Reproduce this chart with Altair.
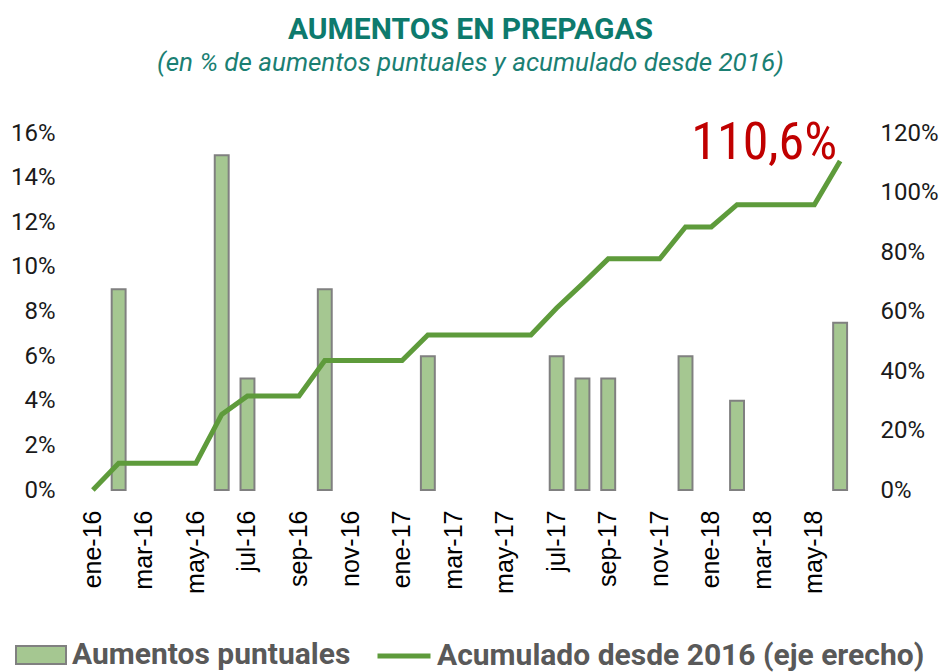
import altair as alt
import pandas as pd

meses = ["ene-16", "feb-16", "mar-16", "abr-16", "may-16", "jun-16", "jul-16", "ago-16",
         "sep-16", "oct-16", "nov-16", "dic-16", "ene-17", "feb-17", "mar-17", "abr-17",
         "may-17", "jun-17", "jul-17", "ago-17", "sep-17", "oct-17", "nov-17", "dic-17",
         "ene-18", "feb-18", "mar-18", "abr-18", "may-18", "jun-18"]
aumentos = [None, 9, None, None, None, 15, 5, None, None, 9, None, None,
            None, 6, None, None, None, None, 6, 5, 5, None, None, 6,
            None, 4, None, None, None, 7.5]
acumulado = [0, 9.0, 9.0, 9.0, 9.0, 25.4, 31.6, 31.6, 31.6, 43.5, 43.5, 43.5,
             43.5, 52.1, 52.1, 52.1, 52.1, 52.1, 61.2, 69.3, 77.7, 77.7, 77.7, 88.4,
             88.4, 95.9, 95.9, 95.9, 95.9, 110.6]
etiquetas_x = ["ene-16", "mar-16", "may-16", "jul-16", "sep-16", "nov-16", "ene-17",
               "mar-17", "may-17", "jul-17", "sep-17", "nov-17", "ene-18", "mar-18", "may-18"]
ticks_izq = [0, 2, 4, 6, 8, 10, 12, 14, 16]
ticks_der = [0, 20, 40, 60, 80, 100, 120]
anot_mes = ["jun-18"]
anot_valor = [110.6]
anot_texto = ["110,6%"]

serie_b = "Aumentos puntuales"
serie_l = "Acumulado desde 2016 (eje erecho)"

df = pd.DataFrame({"mes": meses, "aumento": aumentos, "acumulado": acumulado})
df["serie_b"] = serie_b
df["serie_l"] = serie_l
df_anot = pd.DataFrame({"mes": anot_mes, "acumulado": anot_valor, "texto": anot_texto})

x_enc = alt.X(
    "mes:N", sort=meses,
    scale=alt.Scale(paddingInner=0.46, paddingOuter=0.23),
    axis=alt.Axis(values=etiquetas_x, labelAngle=-90, labelFont="Liberation Sans",
                  labelFontSize=25, labelColor="#000000", ticks=False, domain=False,
                  labelPadding=20, title=None, grid=False),
)

label_font = "Roboto"
legend_common = dict(orient="none", title=None, labelFont=label_font, labelFontSize=30,
                     labelFontWeight="bold", labelColor="#595959", padding=0, labelLimit=0)

bars = alt.Chart(df).transform_filter("datum.aumento > 0").mark_bar(
    stroke="#808080", strokeWidth=2
).encode(
    x=x_enc,
    y=alt.Y("aumento:Q", scale=alt.Scale(domain=[0, 16], nice=False),
            axis=alt.Axis(values=ticks_izq, labelExpr="datum.value + '%'", domain=False,
                          ticks=False, grid=False, labelFont=label_font, labelFontSize=24,
                          labelColor="#1a1a1a", labelPadding=25, title=None)),
    fill=alt.Fill("serie_b:N", scale=alt.Scale(domain=[serie_b], range=["#a5c791"]),
                  legend=alt.Legend(legendX=-65, legendY=496,
                                    symbolType="M-1,-0.36H1V0.36H-1Z", symbolSize=2500,
                                    symbolStrokeColor="#808080", symbolStrokeWidth=2,
                                    symbolOpacity=1, labelOffset=5, **legend_common)),
)

line = alt.Chart(df).mark_line(strokeWidth=5).encode(
    x=x_enc,
    y=alt.Y("acumulado:Q", scale=alt.Scale(domain=[0, 120], nice=False),
            axis=alt.Axis(orient="right", values=ticks_der, labelExpr="datum.value + '%'",
                          domain=False, ticks=False, grid=False, labelFont=label_font,
                          labelFontSize=24, labelColor="#1a1a1a", labelPadding=27,
                          title=None)),
    stroke=alt.Stroke("serie_l:N", scale=alt.Scale(domain=[serie_l], range=["#5e9b3b"]),
                      legend=alt.Legend(legendX=295, legendY=494, symbolType="stroke",
                                        symbolSize=2809, symbolStrokeWidth=5,
                                        labelOffset=4, **legend_common)),
)

anot = alt.Chart(df_anot).mark_text(
    align="right", baseline="alphabetic", dx=-3, dy=-2,
    font="Roboto Condensed, Liberation Sans Narrow, Roboto", fontSize=52, color="#c00000"
).encode(
    x=x_enc,
    y=alt.Y("acumulado:Q", scale=alt.Scale(domain=[0, 120], nice=False), axis=None),
    text="texto:N",
)

chart = alt.layer(bars, line, anot).resolve_scale(y="independent").properties(
    width=773, height=357,
    autosize=alt.AutoSizeParams(type="none"),
    padding={"left": 80, "top": 133, "right": 88, "bottom": 182},
    background="white",
    title=alt.Title(
        text="AUMENTOS EN PREPAGAS",
        subtitle="(en % de aumentos puntuales y acumulado desde 2016)",
        font="Roboto", fontSize=30, fontWeight="bold", color="#0d7a6d",
        subtitleFont="Roboto", subtitleFontSize=26, subtitleFontStyle="italic",
        subtitleColor="#1b7f73", anchor="middle", offset=41, subtitlePadding=5, dx=4,
    ),
).configure_view(stroke=None)

chart.save("out.html", embed_options={"renderer": "svg", "actions": False})
